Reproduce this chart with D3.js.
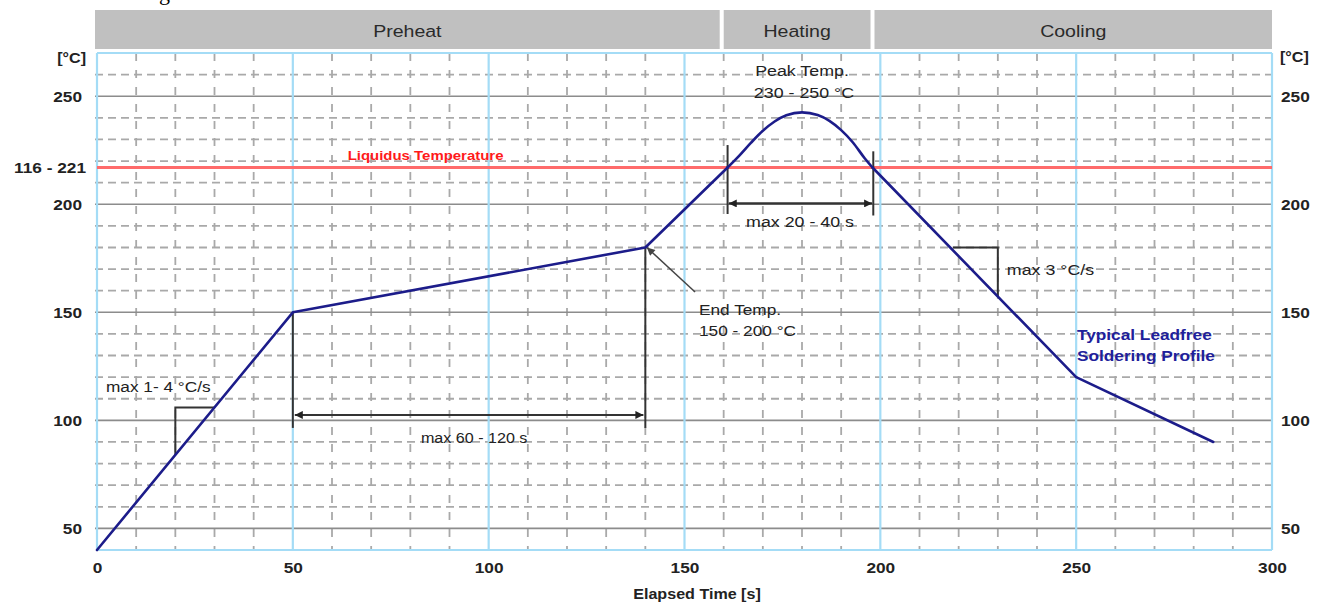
<!DOCTYPE html>
<html>
<head>
<meta charset="utf-8">
<script src="https://cdn.jsdelivr.net/npm/d3@7"></script>
<style>
  body { margin: 0; background: #fff; }
  svg { display: block; font-family: "Liberation Sans", Arial, sans-serif; }
</style>
</head>
<body>
<svg width="1320" height="604"></svg>
<script>
// soldeerprofiel: tijd [s] tegen temperatuur [°C]
const rampTime = [0, 50, 140, 161]
const rampTemp = [40, 150, 180, 217]
// piek boven liquidus (wordt glad getekend)
const peakTime = [161, 164, 167, 170, 173, 176, 180, 184, 187, 190, 193, 196, 198]
const peakTemp = [217, 222.5, 228.5, 234, 238.3, 241.2, 242.5, 241.3, 238.6, 234.3, 228.6, 221.3, 217]
const coolTime = [198, 250, 285]
const coolTemp = [217, 120, 90]

const xTicks = [0, 50, 100, 150, 200, 250, 300]
const yTicks = [50, 100, 150, 200, 250]
const phaseNames = ['Preheat', 'Heating', 'Cooling']
const phaseStart = [0, 159.5, 198]
const phaseEnd = [159.5, 198, 300]
const liquidus = 217
const liquidusLabel = '116 - 221'

const svg = d3.select('svg')
const width = +svg.attr('width')
const height = +svg.attr('height')
const margin = {top: 53, right: 48, bottom: 54, left: 97}

const x = d3.scaleLinear().domain([0, 300]).range([margin.left, width - margin.right])
const y = d3.scaleLinear().domain([40, 270]).range([height - margin.bottom, margin.top])

const stretch = 1.15 // tekst in het origineel is breder getrokken

// tekst helper, horizontaal uitgerekt
function label(parent, px, py, s, opt = {}) {
    return parent.append('text')
        .attr('transform', `translate(${px},${py}) scale(${stretch},1)`)
        .attr('text-anchor', opt.anchor || 'start')
        .attr('font-size', opt.size || 14)
        .attr('font-weight', opt.weight || 'normal')
        .attr('fill', opt.color || '#222')
        .text(s)
}

// afgesneden regel boven de grafiek
svg.append('text').attr('x', 159).attr('y', 0)
    .attr('font-family', '"Liberation Serif", serif').attr('font-size', 22)
    .text('g')

const defs = svg.append('defs')
function marker(id, color) {
    defs.append('marker')
        .attr('id', id)
        .attr('viewBox', '0 0 10 10')
        .attr('refX', 10).attr('refY', 5)
        .attr('markerUnits', 'userSpaceOnUse')
        .attr('markerWidth', 10).attr('markerHeight', 8)
        .attr('orient', 'auto-start-reverse')
        .append('path').attr('d', 'M0,0 L10,5 L0,10 z').attr('fill', color)
}
marker('arr', '#222')
marker('arrGray', '#444')

// fase balken bovenaan
const bands = svg.append('g')
phaseNames.forEach((name, i) => {
    const x0 = i === 0 ? x(phaseStart[i]) - 2 : x(phaseStart[i]) + 2
    const x1 = i === phaseNames.length - 1 ? x(phaseEnd[i]) : x(phaseEnd[i]) - 2
    bands.append('rect')
        .attr('x', x0).attr('y', 10)
        .attr('width', x1 - x0).attr('height', 39)
        .attr('fill', '#c0c0c0')
    label(bands, (x0 + x1) / 2, 37, name, {anchor: 'middle', size: 17, color: '#2a2a2a'})
})

const grid = svg.append('g')
const minorY = d3.range(50, 270, 10).filter(v => v % 50 !== 0)
const minorX = d3.range(10, 300, 10).filter(v => v % 50 !== 0)

// gestippelde rasterlijnen
grid.selectAll('.hdash').data(minorY).enter().append('line')
    .attr('x1', x(0) - 2).attr('x2', x(300))
    .attr('y1', d => y(d)).attr('y2', d => y(d))
    .attr('stroke', '#a9a9a9').attr('stroke-width', 1.8)
    .attr('stroke-dasharray', '8,5')
grid.selectAll('.vdash').data(minorX).enter().append('line')
    .attr('x1', d => x(d)).attr('x2', d => x(d))
    .attr('y1', y(270)).attr('y2', y(40))
    .attr('stroke', '#a9a9a9').attr('stroke-width', 1.8)
    .attr('stroke-dasharray', '8,9')

// doorgetrokken horizontale lijnen
grid.selectAll('.hmajor').data(yTicks).enter().append('line')
    .attr('x1', x(0) - 2).attr('x2', x(300))
    .attr('y1', d => y(d)).attr('y2', d => y(d))
    .attr('stroke', '#8c8c8c').attr('stroke-width', 1.6)

// lichtblauwe verticale lijnen en kader
grid.selectAll('.vmajor').data(xTicks).enter().append('line')
    .attr('x1', d => x(d)).attr('x2', d => x(d))
    .attr('y1', y(270)).attr('y2', y(40))
    .attr('stroke', '#a4dcf6').attr('stroke-width', 2.2)
grid.selectAll('.hborder').data([40, 270]).enter().append('line')
    .attr('x1', x(0)).attr('x2', x(300))
    .attr('y1', d => y(d)).attr('y2', d => y(d))
    .attr('stroke', '#a4dcf6').attr('stroke-width', 2.2)

// liquidus lijn
svg.append('line')
    .attr('x1', x(0)).attr('x2', x(300))
    .attr('y1', y(liquidus)).attr('y2', y(liquidus))
    .attr('stroke', '#ff6b6b').attr('stroke-width', 3)
label(svg, x(64), y(liquidus) - 8, 'Liquidus Temperature', {size: 13, weight: 'bold', color: '#ff1a1a'})

// assen
function styleTicks(sel) {
    sel.attr('transform', `scale(${stretch},1)`)
        .attr('font-size', 15).attr('font-weight', 'bold')
        .attr('font-family', '"Liberation Sans", Arial, sans-serif').attr('fill', '#222')
}

const xAxis = svg.append('g')
    .attr('transform', `translate(0,${y(40)})`)
    .call(d3.axisBottom(x).tickValues(xTicks).tickSize(0).tickPadding(0))
xAxis.select('.domain').remove()
xAxis.selectAll('text').attr('y', 23).attr('dy', 0).call(styleTicks)

const yAxisL = svg.append('g')
    .attr('transform', `translate(${x(0) - 15},0)`)
    .call(d3.axisLeft(y).tickValues(yTicks).tickSize(0).tickPadding(0))
yAxisL.select('.domain').remove()
yAxisL.selectAll('text').attr('x', 0).attr('dy', '0.35em').call(styleTicks)

const yAxisR = svg.append('g')
    .attr('transform', `translate(${x(300) + 9},0)`)
    .call(d3.axisRight(y).tickValues(yTicks).tickSize(0).tickPadding(0))
yAxisR.select('.domain').remove()
yAxisR.selectAll('text').attr('x', 0).attr('dy', '0.35em').call(styleTicks)

label(svg, x(0) - 11, y(liquidus) + 5, liquidusLabel, {anchor: 'end', size: 15, weight: 'bold'})
label(svg, x(0) - 11, 63, '[°C]', {anchor: 'end', size: 14, weight: 'bold'})
label(svg, x(300) + 8, 62, '[°C]', {size: 14, weight: 'bold'})
label(svg, 697, 599, 'Elapsed Time [s]', {anchor: 'middle', size: 14, weight: 'bold'})

// annotaties
const ann = svg.append('g').attr('fill', 'none').attr('stroke', '#333').attr('stroke-width', 2)
const seg = (pts, extra) => {
    const p = ann.append('path').attr('d', d3.line().x(d => x(d[0])).y(d => y(d[1]))(pts))
    if (extra) extra(p)
    return p
}

// opwarm helling
seg([[20, 84], [20, 106], [30, 106]])
label(svg, x(2.3), y(113), 'max 1- 4 °C/s', {size: 15})

// voorverwarm tijd
seg([[50, 150], [50, 96.5]])
seg([[140, 180], [140, 96.5]])
seg([[50.5, 102.5], [139.5, 102.5]], p => p.attr('marker-start', 'url(#arr)').attr('marker-end', 'url(#arr)'))
label(svg, x(96.3), y(89.5), 'max 60 - 120 s', {anchor: 'middle', size: 14})

// eindtemperatuur pijl
seg([[152.7, 159.4], [140.4, 180]], p => p.attr('stroke', '#444').attr('stroke-width', 1.5).attr('marker-end', 'url(#arrGray)'))
label(svg, x(153.7), y(148.7), 'End Temp.', {size: 15})
label(svg, x(153.7), y(139), '150 - 200 °C', {size: 15})

// tijd boven liquidus
seg([[161, 227.4], [161, 195.5]])
seg([[198.2, 224.5], [198.2, 194.8]])
seg([[161.3, 200.4], [197.9, 200.4]], p => p.attr('stroke-width', 2.2).attr('marker-start', 'url(#arr)').attr('marker-end', 'url(#arr)'))
label(svg, x(179.5), y(189.5), 'max 20 - 40 s', {anchor: 'middle', size: 15.5})

// piek temperatuur
label(svg, x(180), y(259.3), 'Peak Temp.', {anchor: 'middle', size: 15.5})
label(svg, x(180.5), y(249.2), '230 - 250 °C', {anchor: 'middle', size: 15.5})

// afkoel helling
seg([[218.5, 180], [230, 180], [230, 157.5]])
label(svg, x(232.3), y(167.3), 'max 3 °C/s', {size: 15.5})

// het profiel zelf: rechte stukken plus een gladde piek
const toPts = (ts, vs) => ts.map((t, i) => ({t, v: vs[i]}))
const straight = d3.line().x(d => x(d.t)).y(d => y(d.v)).curve(d3.curveLinear)
const smooth = d3.line().x(d => x(d.t)).y(d => y(d.v)).curve(d3.curveMonotoneX)

const profile = svg.append('g')
    .attr('fill', 'none')
    .attr('stroke', '#1c1c8a')
    .attr('stroke-width', 2.6)
    .attr('stroke-linejoin', 'round')
    .attr('stroke-linecap', 'round')
profile.append('path').attr('d', straight(toPts(rampTime, rampTemp)))
profile.append('path').attr('d', smooth(toPts(peakTime, peakTemp)))
profile.append('path').attr('d', straight(toPts(coolTime, coolTemp)))

label(svg, x(250.2), y(137.2), 'Typical Leadfree', {size: 15, weight: 'bold', color: '#20209a'})
label(svg, x(250.2), y(127.5), 'Soldering Profile', {size: 15, weight: 'bold', color: '#20209a'})
</script>
</body>
</html>
